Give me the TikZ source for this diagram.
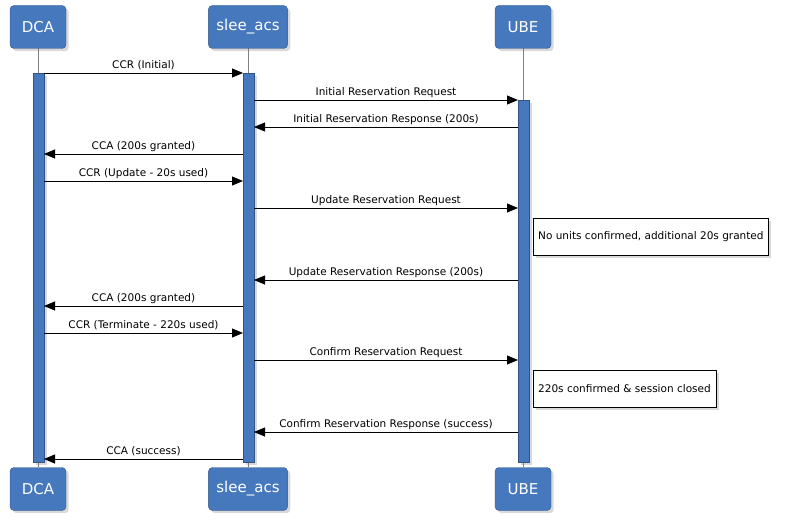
\documentclass[tikz,border=0pt]{standalone}
\usepackage{fontspec}
\setmainfont{DejaVu Sans}
\usetikzlibrary{arrows.meta,shadows}
\definecolor{headblue}{RGB}{70,120,190}
\tikzset{
  head/.style={draw=headblue!70!black,fill=headblue,rounded corners=4pt,text=white,
    minimum height=43pt,minimum width=56pt,inner xsep=8pt,font=\fontsize{15}{17}\selectfont,drop shadow={opacity=0.3}},
  bar/.style={draw=headblue!70!black,fill=headblue,drop shadow={opacity=0.3}},
  msg/.style={-{Triangle[length=11pt,width=9pt]},line width=0.8pt},
  lbl/.style={above=-1pt,font=\fontsize{10.5}{12}\selectfont},
  note/.style={draw,fill=white,font=\fontsize{10.5}{12}\selectfont,anchor=north west,
    minimum height=37pt,inner xsep=5pt,drop shadow={opacity=0.3}}
}
\begin{document}
\begin{tikzpicture}[x=1pt,y=-1pt]
        \useasboundingbox (0,0) rectangle (794,521);

        \draw[gray] (38,48) -- (38,467);
        \draw[gray] (248,48) -- (248,467);
        \draw[gray] (523,48) -- (523,467);

        \node[head] (dca) at (38,27) {DCA};
        \node[head] (acs) at (248,27) {slee\_acs};
        \node[head] (ube) at (523,27) {UBE};
        \node[head] (dcab) at (38,489) {DCA};
        \node[head] (acsb) at (248,489) {slee\_acs};
        \node[head] (ubeb) at (523,489) {UBE};

        \draw[bar] (33,73) rectangle (44,462);
        \draw[bar] (243,73) rectangle (254,462);
        \draw[bar] (518,100) rectangle (529,462);

        % message end points
        \foreach \n/\y in {1/73,4/154,5/181,9/306,10/333,13/459} {
          \coordinate (d\n) at (44,\y);
          \coordinate (s\n) at (243,\y);
        }
        \foreach \n/\y in {2/100,3/127,6/208,8/280,11/360,12/432} {
          \coordinate (s\n) at (254,\y);
          \coordinate (u\n) at (518,\y);
        }

        \draw[msg] (d1) -- node[lbl] {CCR (Initial)} (s1);
        \draw[msg] (s2) -- node[lbl] {Initial Reservation Request} (u2);
        \draw[msg] (u3) -- node[lbl] {Initial Reservation Response (200s)} (s3);
        \draw[msg] (s4) -- node[lbl] {CCA (200s granted)} (d4);
        \draw[msg] (d5) -- node[lbl] {CCR (Update - 20s used)} (s5);
        \draw[msg] (s6) -- node[lbl] {Update Reservation Request} (u6);
        \draw[msg] (u8) -- node[lbl] {Update Reservation Response (200s)} (s8);
        \draw[msg] (s9) -- node[lbl] {CCA (200s granted)} (d9);
        \draw[msg] (d10) -- node[lbl] {CCR (Terminate - 220s used)} (s10);
        \draw[msg] (s11) -- node[lbl] {Confirm Reservation Request} (u11);
        \draw[msg] (u12) -- node[lbl] {Confirm Reservation Response (success)} (s12);
        \draw[msg] (s13) -- node[lbl] {CCA (success)} (d13);

        \node[note] (n1) at (533,218) {No units confirmed, additional 20s granted};
        \node[note] (n2) at (533,370) {220s confirmed \& session closed};

        \end{tikzpicture}
\end{document}
